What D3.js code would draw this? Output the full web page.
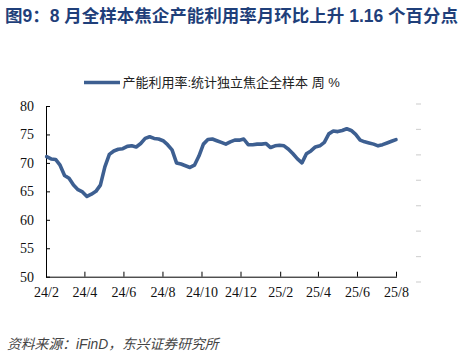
<!DOCTYPE html>
<html><head><meta charset="utf-8">
<script src="https://cdn.jsdelivr.net/npm/d3@7"></script>
<style>
html,body{margin:0;padding:0;background:#fff;}
svg{display:block;}
</style></head>
<body>
<svg id="c" width="476" height="357"></svg>
<script>
const titleText = "图9：8 月全样本焦企产能利用率月环比上升 1.16 个百分点";
const legendText = "产能利用率:统计独立焦企全样本 周 %";
const sourceText = "资料来源：iFinD，东兴证券研究所";
const startDate = "2024-02-02"; // weekly data, Fridays
const values = [
  71.1, 70.7, 70.6, 69.6, 67.8, 67.3, 66.1, 65.3, 64.9, 64.1,
  64.5, 65.0, 66.1, 69.3, 71.5, 72.1, 72.4, 72.5, 72.9, 73.0,
  72.8, 73.4, 74.3, 74.6, 74.3, 74.2, 73.9, 73.2, 72.3, 70.0,
  69.8, 69.5, 69.2, 69.6, 71.2, 73.3, 74.1, 74.2, 73.9, 73.6,
  73.3, 73.7, 74.0, 74.0, 74.2, 73.2, 73.2, 73.3, 73.3, 73.4,
  72.7, 73.0, 73.1, 73.0, 72.4, 71.6, 70.7, 70.0, 71.6, 72.1,
  72.8, 73.0, 73.6, 75.1, 75.6, 75.5, 75.7, 76.0, 75.7, 75.0,
  74.0, 73.7, 73.5, 73.3, 73.0, 73.2, 73.5, 73.8, 74.1
];
const xTickLabels = ["24/2","24/4","24/6","24/8","24/10","24/12","25/2","25/4","25/6","25/8"];
const yTicks = [50,55,60,65,70,75,80];

const svg = d3.select("#c");
const parseDay = d3.timeParse("%Y-%m-%d");
const parseTick = d3.timeParse("%y/%m");
const d0 = parseDay(startDate);
const data = values.map((v,i)=>({date: d3.timeDay.offset(d0, 7*i), v}));
const tickDates = xTickLabels.map(parseTick);

const x = d3.scaleTime().domain([tickDates[0], tickDates[tickDates.length-1]]).range([46, 396]);
const y = d3.scaleLinear().domain([50,80]).range([276.7,106]);

// title
svg.append("text").attr("x",5).attr("y",22)
  .attr("font-family","'Liberation Sans','Noto Sans CJK SC',sans-serif")
  .attr("font-weight","bold").attr("font-size","17.5px").attr("fill","#1f3f7a")
  .text(titleText);

// faint ghost right axis
const ghost = d3.scaleLinear().domain([0,7]).range([282,104]);
svg.append("g").selectAll("line").data(d3.range(0,8)).join("line")
  .attr("x1",416).attr("x2",421).attr("y1",d=>ghost(d)).attr("y2",d=>ghost(d))
  .attr("stroke","#d4d4d4").attr("stroke-width",1.2);

// legend
svg.append("line").attr("x1",84).attr("x2",120).attr("y1",82.5).attr("y2",82.5)
  .attr("stroke","#3d5f91").attr("stroke-width",3.5);
svg.append("text").attr("x",122.5).attr("y",87)
  .attr("font-family","'Liberation Sans','Noto Sans CJK SC',sans-serif")
  .attr("font-size","13px").attr("fill","#222").text(legendText);

// axes
const axisFont = "'Liberation Serif','Times New Roman',serif";
const yAxis = svg.append("g").attr("transform","translate(46,0)")
  .call(d3.axisLeft(y).tickValues(yTicks).tickSize(-4).tickPadding(12).tickSizeOuter(0));
const xAxis = svg.append("g").attr("transform","translate(0,276.7)")
  .call(d3.axisBottom(x).tickValues(tickDates).tickFormat((d,i)=>xTickLabels[i]).tickSize(-5).tickPadding(10).tickSizeOuter(0));
[yAxis,xAxis].forEach(g=>{
  g.select(".domain").attr("stroke","#000").attr("stroke-width",1);
  g.selectAll(".tick line").attr("stroke","#000");
  g.selectAll("text").attr("font-family",axisFont).attr("font-size","14px").attr("fill","#111");
});
xAxis.select(".domain").attr("d","M46,0.5H397");

// line
svg.append("path").datum(data)
  .attr("fill","none").attr("stroke","#3d5f91").attr("stroke-width",3.6)
  .attr("stroke-linejoin","round").attr("stroke-linecap","round")
  .attr("d", d3.line().x(d=>x(d.date)).y(d=>y(d.v)));

// source
svg.append("text").attr("x",7).attr("y",349)
  .attr("font-family","'Liberation Sans','Noto Sans CJK SC',sans-serif")
  .attr("font-style","italic").attr("font-size","13.8px").attr("fill","#444")
  .text(sourceText);
</script>
</body></html>
